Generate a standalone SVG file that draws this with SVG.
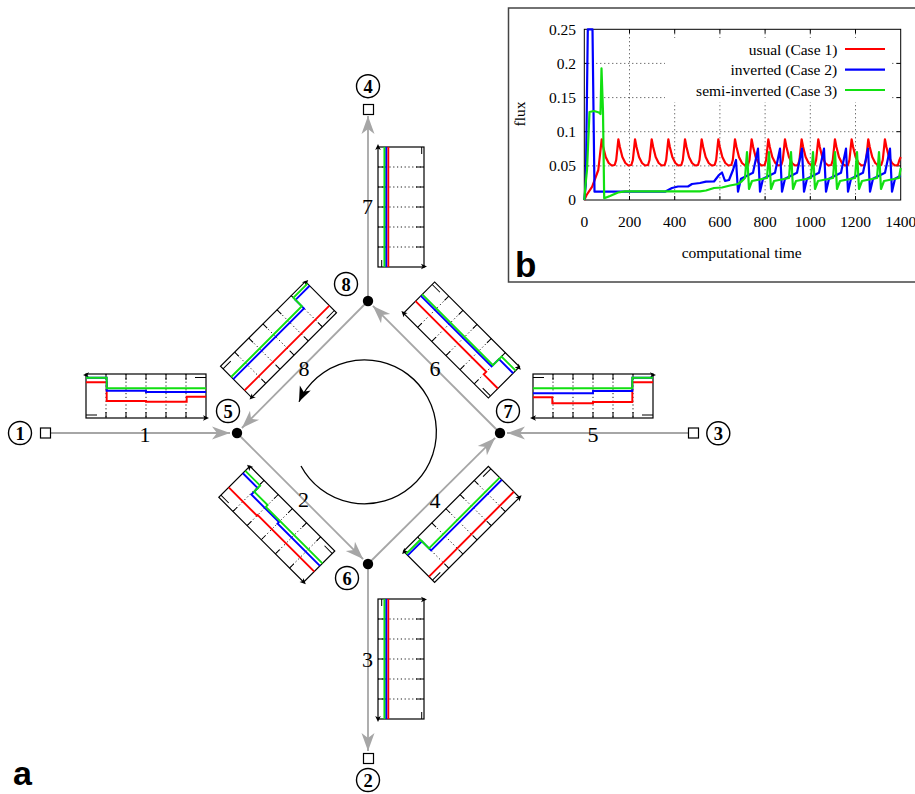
<svg xmlns="http://www.w3.org/2000/svg" xmlns:xlink="http://www.w3.org/1999/xlink" width="915" height="794" viewBox="0 0 915 794">
<style>
.edge{stroke:#a6a6a6;stroke-width:1.8;fill:none}
.frame{fill:#fff;stroke:#000;stroke-width:1.2}
.grid{stroke:#000;stroke-width:0.9;stroke-dasharray:1.2,2.6;fill:none}
.tick{stroke:#000;stroke-width:1;fill:none}
.r{stroke:#ff0000;stroke-width:1.9;fill:none}
.b{stroke:#0000ff;stroke-width:1.9;fill:none}
.g{stroke:#11e011;stroke-width:1.9;fill:none}
.cr{stroke:#ff0000;stroke-width:2.2;fill:none;stroke-linejoin:round}
.cb{stroke:#0000ff;stroke-width:2.2;fill:none;stroke-linejoin:round}
.cg{stroke:#11e011;stroke-width:2.2;fill:none;stroke-linejoin:round}
.lbl{font-family:"Liberation Serif","Times New Roman",serif;font-size:22px;text-anchor:middle}
.cn{font-family:"Liberation Serif","Times New Roman",serif;font-weight:bold;font-size:18.5px;text-anchor:middle}
.ring{fill:#fff;stroke:#000;stroke-width:1.4}
.sq{fill:#fff;stroke:#000;stroke-width:1.2}
.ax{font-family:"Liberation Serif","Times New Roman",serif;font-size:15.5px}
.pgrid{stroke:#000;stroke-width:0.8;stroke-dasharray:1,3;fill:none}
</style>
<defs>
<marker id="ga" markerUnits="userSpaceOnUse" markerWidth="20" markerHeight="14" viewBox="-19 -7 20 14" refX="0" refY="0" orient="auto"><path d="M0,0 L-18,-6.5 L-13,0 L-18,6.5 Z" fill="#a6a6a6"/></marker>
<marker id="ka" markerUnits="userSpaceOnUse" markerWidth="17" markerHeight="14" viewBox="-16 -7 17 14" refX="0" refY="0" orient="auto"><path d="M0,0 L-15,-6 L-11,0 L-15,6 Z" fill="#000"/></marker>
<g id="fh">
<rect x="-60" y="-22" width="120" height="44" class="frame"/>
<path class="grid" d="M-40,-22V22M-20,-22V22M0,-22V22M20,-22V22M40,-22V22"/>
<path class="tick" d="M-40,-22v6M-20,-22v6M0,-22v6M20,-22v6M40,-22v6M-40,22v-6M-20,22v-6M0,22v-6M20,22v-6M40,22v-6M-60,19H-49M49,-18.5H60"/>
<path d="M-63,-21 l6,-2.8 l-1.5,2.8 l1.5,2.8z M63,22 l-6,-2.8 l1.5,2.8 l-1.5,2.8z" fill="#000"/>
</g>
<g id="fv">
<rect x="-23" y="-60" width="46" height="120" class="frame"/>
<path class="grid" d="M-23,-40H23M-23,-20H23M-23,0H23M-23,20H23M-23,40H23"/>
<path class="tick" d="M-23,-40h8M-23,-20h8M-23,0h8M-23,20h8M-23,40h8M23,-40h-8M23,-20h-8M23,0h-8M23,20h-8M23,40h-8M-19.3,53V60M20.7,-60V-53"/>
<path d="M-23,-63 l-2.8,6 l2.8,-1.5 l2.8,1.5z M26,59.5 l-6,-2.8 l1.5,2.8 l-1.5,2.8z" fill="#000"/>
<path class="r" d="M-12.7,-60V60"/>
<path class="b" d="M-14.8,-60V60"/>
<path class="g" d="M-16.6,-60V60"/>
</g>
</defs>
<rect width="915" height="794" fill="#fff"/>

<!-- connectors -->
<g id="connectors">
<path class="edge" d="M51,433 L230,433" marker-end="url(#ga)"/>
<path class="edge" d="M688,433 L507,433" marker-end="url(#ga)"/>
<path class="edge" d="M368,301 L241.9,428" marker-end="url(#ga)"/>
<path class="edge" d="M237,433 L363.1,559.1" marker-end="url(#ga)"/>
<path class="edge" d="M368,564 L495.1,437.9" marker-end="url(#ga)"/>
<path class="edge" d="M500,433 L372.9,305.9" marker-end="url(#ga)"/>
<path class="edge" d="M368,301 L368,116" marker-end="url(#ga)"/>
<path class="edge" d="M368,564 L368,751" marker-end="url(#ga)"/>
<path d="M301,466 A72,72 0 1 0 299,401.7" fill="none" stroke="#000" stroke-width="1.3" marker-end="url(#ka)"/>
</g>

<!-- edge insets -->
<g id="inset-1" transform="translate(146,396)">
<use xlink:href="#fh" href="#fh"/>
<path class="r" d="M-60,-13.7H-39.3V5H0V5.7H40.7V0.7H60"/>
<path class="b" d="M-60,-18.3H-39.3V-5.3H0V-4H60"/>
<path class="g" d="M-60,-18.3H-39.3V-7.7H60"/>
</g>
<g id="inset-5" transform="matrix(-1,0,0,1,593,396)">
<use xlink:href="#fh" href="#fh"/>
<path class="r" d="M-60,-13.7H-39.3V6H0V7.3H40.7V1.3H60"/>
<path class="b" d="M-60,-18.3H-39.3V-5H0V-2.7H60"/>
<path class="g" d="M-60,-18.3H-39.3V-7.7H60"/>
</g>
<g id="inset-8" transform="matrix(-0.7071,0.7071,0.7071,0.7071,278.5,339.5)">
<use xlink:href="#fh" href="#fh"/>
<path class="r" d="M-60,12H60"/>
<path class="b" d="M-60,-16H-40V-4H60"/>
<path class="g" d="M-60,-19H-40V-7H60"/>
</g>
<g id="inset-6" transform="matrix(-0.7071,-0.7071,-0.7071,0.7071,461.5,340)">
<use xlink:href="#fh" href="#fh"/>
<path class="r" d="M-60,8.6H-40V5H60"/>
<path class="b" d="M-60,-13H-40V-2.5H60"/>
<path class="g" d="M-60,-16.6H-40V-4.5H60"/>
</g>
<g id="inset-2" transform="matrix(0.7071,0.7071,-0.7071,0.7071,276.8,524.2)">
<use xlink:href="#fh" href="#fh"/>
<path class="r" d="M-60,8H-20V7H60"/>
<path class="b" d="M-60,-12H-39V-3H0V-1H60"/>
<path class="g" d="M-60,-15.5H-39V-7H-20V-4.5H60"/>
</g>
<g id="inset-4" transform="matrix(0.7071,-0.7071,0.7071,0.7071,461.5,524.3)">
<use xlink:href="#fh" href="#fh"/>
<path class="r" d="M-60,14H60"/>
<path class="b" d="M-60,-16H-40V-3H60"/>
<path class="g" d="M-60,-18.2H-40V-6H60"/>
</g>
<g id="inset-7" transform="translate(401,207)"><use xlink:href="#fv" href="#fv"/></g>
<g id="inset-3" transform="translate(401,659) scale(1,-1)"><use xlink:href="#fv" href="#fv"/></g>

<!-- edge labels -->
<g id="edge-labels" class="lbl">
<text x="145" y="442">1</text>
<text x="593" y="442">5</text>
<text x="304" y="375.5">8</text>
<text x="435" y="375.5">6</text>
<text x="303.5" y="507">2</text>
<text x="435" y="508">4</text>
<text x="367.5" y="214">7</text>
<text x="367.5" y="667">3</text>
</g>

<!-- nodes -->
<g id="node-1"><rect class="sq" x="40.5" y="428" width="10" height="10"/><circle class="ring" cx="20" cy="433" r="11.5"/><text class="cn" x="20" y="439.5">1</text></g>
<g id="node-3"><rect class="sq" x="688.5" y="428" width="10" height="10"/><circle class="ring" cx="718.3" cy="433.3" r="11.5"/><text class="cn" x="718.3" y="439.8">3</text></g>
<g id="node-4"><rect class="sq" x="363.5" y="104.5" width="10" height="10"/><circle class="ring" cx="368" cy="86.2" r="11.5"/><text class="cn" x="368" y="92.7">4</text></g>
<g id="node-2"><rect class="sq" x="363.5" y="753.5" width="10" height="10"/><circle class="ring" cx="368" cy="780" r="11.5"/><text class="cn" x="368" y="786.5">2</text></g>
<g id="node-5"><circle cx="237" cy="433" r="5.2"/><circle class="ring" cx="228" cy="411" r="11.5"/><text class="cn" x="228" y="417.5">5</text></g>
<g id="node-7"><circle cx="500" cy="433" r="5.2"/><circle class="ring" cx="508" cy="411" r="11.5"/><text class="cn" x="508" y="417.5">7</text></g>
<g id="node-8"><circle cx="368" cy="301" r="5.2"/><circle class="ring" cx="346" cy="284" r="11.5"/><text class="cn" x="346" y="290.5">8</text></g>
<g id="node-6"><circle cx="368" cy="564" r="5.2"/><circle class="ring" cx="347" cy="578" r="11.5"/><text class="cn" x="347" y="584.5">6</text></g>

<text x="13" y="785" font-family="Liberation Sans, Arial, sans-serif" font-weight="bold" font-size="34">a</text>

<!-- chart b -->
<g id="chart-b">
<rect x="508.5" y="8" width="420" height="274" fill="#fff" stroke="#444" stroke-width="1.5"/>
<path class="pgrid" d="M629.5,29.3V200M674.7,29.3V200M719.9,29.3V200M765.1,29.3V200M810.3,29.3V200M855.5,29.3V200M584.3,165.9H900.7M584.3,131.7H900.7M584.3,97.6H900.7M584.3,63.4H900.7"/>
<rect x="665" y="38" width="227" height="64" fill="#fff"/>
<rect x="584.3" y="29.3" width="316.4" height="170.7" fill="none" stroke="#000" stroke-width="1"/>
<path class="tick" d="M629.5,200v-4M674.7,200v-4M719.9,200v-4M765.1,200v-4M810.3,200v-4M855.5,200v-4M629.5,29.3v4M674.7,29.3v4M719.9,29.3v4M765.1,29.3v4M810.3,29.3v4M855.5,29.3v4M584.3,165.9h4M584.3,131.7h4M584.3,97.6h4M584.3,63.4h4M900.7,165.9h-4M900.7,131.7h-4M900.7,97.6h-4M900.7,63.4h-4"/>
<g class="ax" text-anchor="end">
<text x="576" y="34.5">0.25</text>
<text x="576" y="68.5">0.2</text>
<text x="576" y="102.5">0.15</text>
<text x="576" y="136.5">0.1</text>
<text x="576" y="170.8">0.05</text>
<text x="576" y="205">0</text>
</g>
<g class="ax" text-anchor="middle">
<text x="584.3" y="226.5">0</text>
<text x="629.5" y="226.5">200</text>
<text x="674.7" y="226.5">400</text>
<text x="719.9" y="226.5">600</text>
<text x="765.1" y="226.5">800</text>
<text x="810.3" y="226.5">1000</text>
<text x="855.5" y="226.5">1200</text>
<text x="900.7" y="226.5">1400</text>
<text x="741.7" y="258">computational time</text>
<text transform="translate(525,114) rotate(-90)">flux</text>
</g>
<g class="ax" text-anchor="end">
<text x="837.3" y="54.5">usual (Case 1)</text>
<text x="837.3" y="75">inverted (Case 2)</text>
<text x="837.3" y="95.5">semi-inverted (Case 3)</text>
</g>
<path class="cr" d="M845,49H885"/>
<path class="cb" d="M845,69.7H885"/>
<path class="cg" d="M845,90H885"/>
<path class="cr" d="M584.3,200 L586.6,195 L592.2,186.7 L598.3,170 L601.7,139.3 l1.5,7.7 2.5,10 3,6 3,2.5 3,-0.5 1.5,-5 2.16,-20.7 l1.5,7.7 2.5,10 3,6 3,2.5 3,-0.5 1.5,-5 2.16,-20.7 l1.5,7.7 2.5,10 3,6 3,2.5 3,-0.5 1.5,-5 2.16,-20.7 l1.5,7.7 2.5,10 3,6 3,2.5 3,-0.5 1.5,-5 2.16,-20.7 l1.5,7.7 2.5,10 3,6 3,2.5 3,-0.5 1.5,-5 2.16,-20.7 l1.5,7.7 2.5,10 3,6 3,2.5 3,-0.5 1.5,-5 2.16,-20.7 l1.5,7.7 2.5,10 3,6 3,2.5 3,-0.5 1.5,-5 2.16,-20.7 l1.5,7.7 2.5,10 3,6 3,2.5 3,-0.5 1.5,-5 2.16,-20.7 l1.5,7.7 2.5,10 3,6 3,2.5 3,-0.5 1.5,-5 2.16,-20.7 l1.5,7.7 2.5,10 3,6 3,2.5 3,-0.5 1.5,-5 2.16,-20.7 l1.5,7.7 2.5,10 3,6 3,2.5 3,-0.5 1.5,-5 2.16,-20.7 l1.5,7.7 2.5,10 3,6 3,2.5 3,-0.5 1.5,-5 2.16,-20.7 l1.5,7.7 2.5,10 3,6 3,2.5 3,-0.5 1.5,-5 2.16,-20.7 l1.5,7.7 2.5,10 3,6 3,2.5 3,-0.5 1.5,-5 2.16,-20.7 l1.5,7.7 2.5,10 3,6 3,2.5 3,-0.5 1.5,-5 2.16,-20.7 l1.5,7.7 2.5,10 3,6 3,2.5 3,-0.5 1.5,-5 2.16,-20.7 l1.5,7.7 2.5,10 3,6 3,2.5 3,-0.5 1.5,-5 2.16,-20.7 l1.5,7.7 2.5,10 3,6 3,2.5 3,-0.5 1.5,-5 1.3,-3"/>
<path class="cb" d="M584.3,200 L585.8,185 L587.8,29.3 L592.5,29.3 L594.5,191.7 L665,191.7 L672,188 L678,186.5 L688,186.5 L692,184 L700,183 L706,181.7 L714,181.5 L719,175 L722,172.5 L725,181 L729,180 L733,170 L736,160 L738,191.7 l3,-13 12,-6 5,-24 2,43 l3,-13 12,-6 5,-24 2,43 l3,-13 12,-6 5,-24 2,43 l3,-13 12,-6 5,-24 2,43 l3,-13 12,-6 5,-24 2,43 l3,-13 12,-6 5,-24 2,43 l3,-13 12,-6 5,-24 2,43 l3,-13 5.7,-3"/>
<path class="cg" d="M584.3,200 L585.3,187 L587,170 L589.5,112 L594,111 L599,112.5 L600.5,114 L601.5,68.3 L603,112 L604.2,198.3 L610,196 L618,192.5 L625,191.3 L700,191.3 L706,190.5 L714,188 L722,187.5 L730,185.5 L738,184 L742,181 L745,178 l2,-26 2,37 3,-8 15,-3 l2,-26 2,37 3,-8 15,-3 l2,-26 2,37 3,-8 15,-3 l2,-26 2,37 3,-8 15,-3 l2,-26 2,37 3,-8 15,-3 l2,-26 2,37 3,-8 15,-3 l2,-26 2,37 3,-8 15,-3 l1.7,-10"/>
<text x="515" y="277" font-family="Liberation Sans, Arial, sans-serif" font-weight="bold" font-size="35">b</text>
</g>
</svg>
